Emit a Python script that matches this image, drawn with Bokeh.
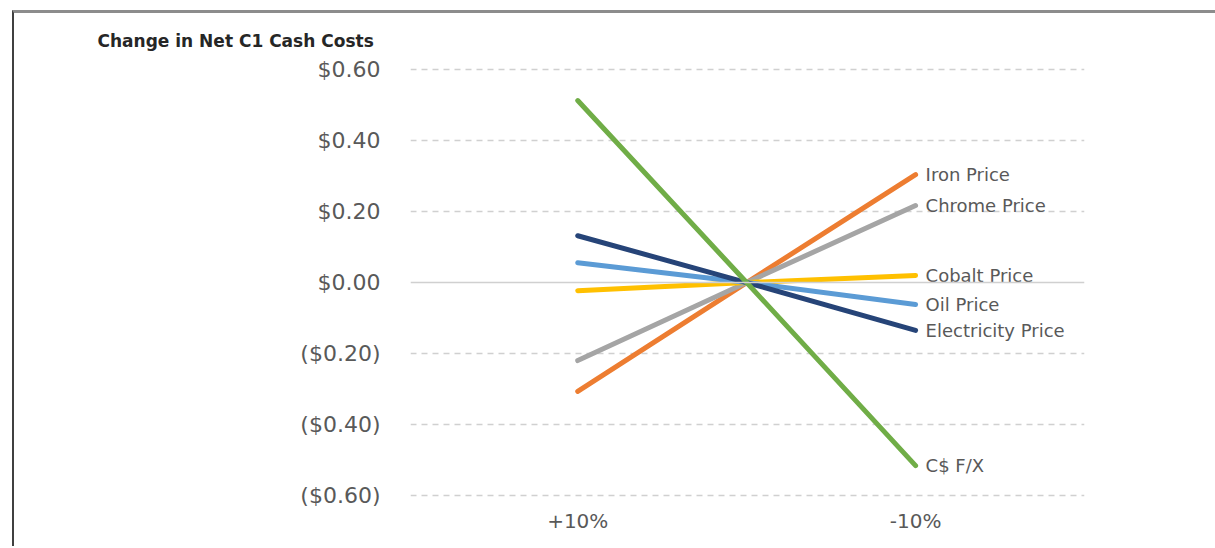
from bokeh.plotting import figure
from bokeh.models import ColumnDataSource, FixedTicker, Span
from bokeh.core.properties import value
from bokeh.embed import file_html
from bokeh.resources import INLINE

# ---- data ----
scenarios = ["+10%", "Base", "-10%"]
scenario_pos = [0, 1, 2]
series_names = ["Iron Price", "Chrome Price", "Cobalt Price", "Oil Price", "Electricity Price", "C$ F/X"]
iron = [-0.307, 0.0, 0.304]
chrome = [-0.220, 0.0, 0.217]
cobalt = [-0.023, 0.0, 0.020]
oil = [0.056, 0.0, -0.062]
electricity = [0.132, 0.0, -0.135]
cad_fx = [0.513, 0.0, -0.516]
series_values = [iron, chrome, cobalt, oil, electricity, cad_fx]
colors = ["#ED7D31", "#A5A5A5", "#FFC000", "#5B9BD5", "#264478", "#70AD47"]
y_ticks = [-0.6, -0.4, -0.2, 0.0, 0.2, 0.4, 0.6]
y_tick_labels = ["($0.60)", "($0.40)", "($0.20)", "$0.00", "$0.20", "$0.40", "$0.60"]
x_tick_labels = {0: "+10%", 2: "-10%"}
axis_title = "Change in Net C1 Cash Costs"

FONT = "DejaVu Sans"

p = figure(width=1203, height=536, output_backend="svg", toolbar_location=None,
           x_range=(-0.99, 3.0), y_range=(-0.62, 0.64),
           min_border_left=396, min_border_right=133, min_border_top=42, min_border_bottom=47)
p.margin = (10, 0, 0, 12)
p.styles = {"border-top": "3px solid #8c8c8c", "border-left": "2px solid #404040"}
p.outline_line_color = None
p.background_fill_color = "white"
p.border_fill_color = "white"

# axis title as plot title
p.title.text = axis_title
p.title.align = "left"
p.title.offset = -313
p.title.text_font = FONT
p.title.text_font_size = "17px"
p.title.text_font_style = "bold"
p.title.text_color = "#262626"
p.title.standoff = 10

# grid
p.xgrid.visible = False
p.ygrid.ticker = FixedTicker(ticks=[t for t in y_ticks if t != 0])
p.ygrid.grid_line_color = "#d0d0d0"
p.ygrid.grid_line_dash = "6 5"
p.ygrid.grid_line_width = 1.5
p.add_layout(Span(location=0, dimension="width", line_color="#d0d0d0", line_width=1.5))

# y axis
p.yaxis.ticker = FixedTicker(ticks=y_ticks)
p.yaxis.major_label_overrides = {t: l for t, l in zip(y_ticks, y_tick_labels)}
p.yaxis.axis_line_color = None
p.yaxis.major_tick_line_color = None
p.yaxis.minor_tick_line_color = None
p.yaxis.major_label_standoff = 24
p.yaxis.major_label_text_font = FONT
p.yaxis.major_label_text_font_size = "22px"
p.yaxis.major_label_text_color = "#595959"

# x axis
p.xaxis.ticker = FixedTicker(ticks=list(x_tick_labels.keys()))
p.xaxis.major_label_overrides = x_tick_labels
p.xaxis.axis_line_color = None
p.xaxis.major_tick_line_color = None
p.xaxis.minor_tick_line_color = None
p.xaxis.major_label_standoff = 0
p.xaxis.major_label_text_font = FONT
p.xaxis.major_label_text_font_size = "20px"
p.xaxis.major_label_text_color = "#595959"

# lines
for name, vals, col in zip(series_names, series_values, colors):
    src = ColumnDataSource(dict(x=scenario_pos, y=vals))
    p.line("x", "y", source=src, line_color=col, line_width=5, line_cap="round")

# end labels
lab_src = ColumnDataSource(dict(x=[scenario_pos[-1]] * len(series_names),
                                y=[v[-1] for v in series_values],
                                t=series_names))
p.text("x", "y", text="t", source=lab_src, x_offset=10,
       text_font=value(FONT), text_font_size="18px", text_color="#595959",
       text_baseline="middle", text_align="left")

open("out.html", "w").write(file_html(p, INLINE))
